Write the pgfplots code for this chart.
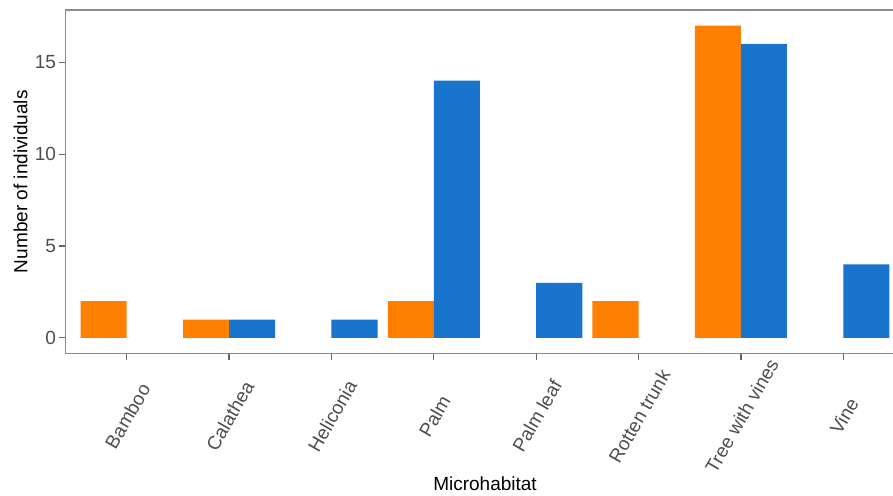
\documentclass[border=0pt]{standalone}
\usepackage{pgfplots}
\pgfplotsset{compat=1.18}
\usepackage{fontspec}
\setmainfont{Liberation Sans}
\usetikzlibrary{calc}

\definecolor{barorange}{HTML}{FF7F00}
\definecolor{barblue}{HTML}{1874CD}
\definecolor{ticktext}{HTML}{4D4D4D}
\definecolor{framegray}{HTML}{8C8C8C}

% counts per microhabitat (1 = Bamboo ... 8 = Vine)
\pgfplotstableread{
x  n
1  2
2  1
4  2
6  2
7  17
}\orangedata
\pgfplotstableread{
x  n
2  1
3  1
4  14
5  3
7  16
8  4
}\bluedata

\tikzset{xlab/.style={rotate=60, anchor=center, inner sep=0pt,
  text height=0.72em, text depth=0.21em, color=ticktext}}

\begin{document}
\fontsize{9.5}{11}\selectfont
\begin{tikzpicture}
\useasboundingbox (-32.65pt,-70.75pt) rectangle (413.85pt,176.75pt);
\begin{axis}[
  at={(0,0)}, anchor=south west,
  scale only axis, width=419.7pt, height=171.8pt,
  xmin=0.4, xmax=8.6, ymin=-0.85, ymax=17.85,
  axis line style={framegray, line width=0.6pt},
  xtick={1,...,8}, xticklabel=\empty,
  ytick={0,5,10,15},
  tick align=outside, tick pos=left,
  major tick length=3.3pt,
  every tick/.style={black!60, line width=0.6pt},
  /pgf/number format/assume math mode=true,
  yticklabel style={color=ticktext, inner xsep=1.2pt},
  ylabel={Number of individuals},
  ylabel style={at={(axis description cs:-0.0534,0.5)}, rotate=0, anchor=center},
  xlabel={Microhabitat},
  xlabel style={at={(axis description cs:0.5,-0.38)}, anchor=center},
  ybar, bar width=0.45,
  clip=false,
]
\addplot[fill=barorange, draw=none, bar shift=-0.225] table[x=x, y=n] {\orangedata};
\addplot[fill=barblue, draw=none, bar shift=0.225] table[x=x, y=n] {\bluedata};

% category names, centred below their ticks
\node[xlab] at ($(axis cs:1,-0.85)+(1.25pt,-31.75pt)$) {Bamboo};
\node[xlab] at ($(axis cs:2,-0.85)+(1.25pt,-31.75pt)$) {Calathea};
\node[xlab] at ($(axis cs:3,-0.85)+(1.25pt,-31.75pt)$) {Heliconia};
\node[xlab] at ($(axis cs:4,-0.85)+(1.25pt,-31.75pt)$) {Palm};
\node[xlab] at ($(axis cs:5,-0.85)+(1.25pt,-31.75pt)$) {Palm leaf};
\node[xlab] at ($(axis cs:6,-0.85)+(1.25pt,-31.75pt)$) {Rotten trunk};
\node[xlab] at ($(axis cs:7,-0.85)+(1.25pt,-31.75pt)$) {Tree with vines};
\node[xlab] at ($(axis cs:8,-0.85)+(1.25pt,-31.75pt)$) {Vine};
\end{axis}
\end{tikzpicture}
\end{document}
